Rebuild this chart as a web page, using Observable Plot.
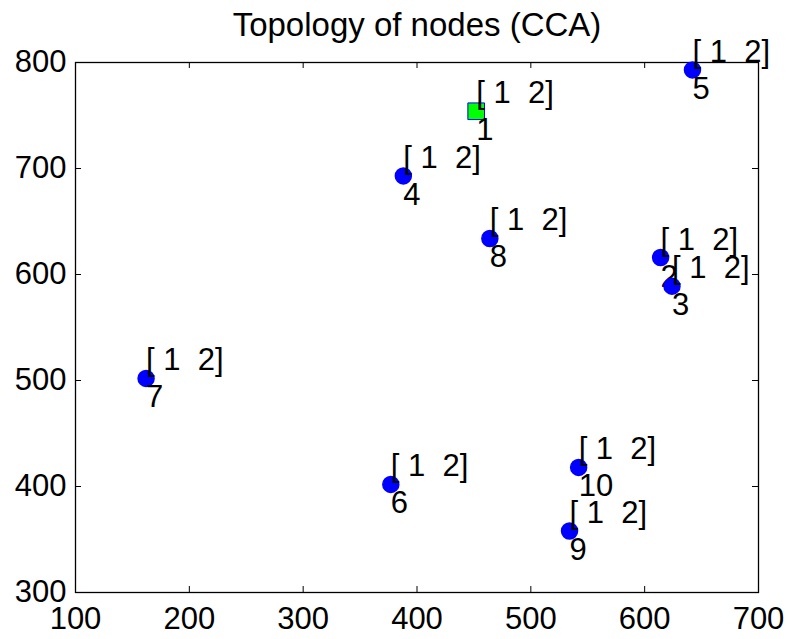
<!DOCTYPE html>
<html><head><meta charset="utf-8">
<script src="https://cdn.jsdelivr.net/npm/d3@7"></script>
<script src="https://cdn.jsdelivr.net/npm/@observablehq/plot@0.6"></script>
<style>html,body{margin:0;padding:0;background:#fff}</style>
</head><body><div id="chart"></div>
<script>
const nodeIds = [1, 2, 3, 4, 5, 6, 7, 8, 9, 10];
const nodeX = [452, 614, 624, 388, 642, 377, 162, 464, 534, 542];
const nodeY = [754, 616, 589, 693, 793, 402, 502, 634, 358, 418];
const nodeLabel = ["[ 1  2]", "[ 1  2]", "[ 1  2]", "[ 1  2]", "[ 1  2]", "[ 1  2]", "[ 1  2]", "[ 1  2]", "[ 1  2]", "[ 1  2]"];
const anchorNode = 1;
const xTicks = [100, 200, 300, 400, 500, 600, 700];
const yTicks = [300, 400, 500, 600, 700, 800];
const title = "Topology of nodes (CCA)";

const nodes = nodeIds.map((id, i) => ({id, x: nodeX[i], y: nodeY[i], label: nodeLabel[i]}));

const W = 791, H = 639, mL = 75, mR = 33, mT = 62, mB = 47;
const pw = W - mL - mR, ph = H - mT - mB, tl = 6;
const font = "'Liberation Sans', Arial, Helvetica, sans-serif";

const nodeMarks = nodes.flatMap(d => [
  d.id === anchorNode
    ? Plot.dot([d], {x: "x", y: "y", symbol: "square", r: 9.4, fill: "#00ff00", stroke: "#0000ff", strokeWidth: 1})
    : Plot.dot([d], {x: "x", y: "y", r: 8, fill: "#0000ff", stroke: "#0000ff"}),
  Plot.text([d], {x: "x", y: "y", text: "label", textAnchor: "start", lineAnchor: "bottom", dy: -8, fontSize: 31, fill: "black", ariaLabel: "node-label"}),
  Plot.text([d], {x: "x", y: "y", text: n => String(n.id), textAnchor: "start", lineAnchor: "bottom", dy: 29, fontSize: 31, fill: "black"})
]);

const chart = Plot.plot({
  width: W, height: H,
  marginLeft: mL, marginRight: mR, marginTop: mT, marginBottom: mB,
  x: {domain: [100, 700]},
  y: {domain: [300, 800]},
  style: {fontFamily: font, background: "white", color: "black", overflow: "visible"},
  marks: [
    Plot.frame({stroke: "black", strokeWidth: 1.3}),
    Plot.tickX(xTicks, {x: d => d, insetTop: ph - tl, stroke: "black"}),
    Plot.tickX(xTicks, {x: d => d, insetBottom: ph - tl, stroke: "black"}),
    Plot.tickY(yTicks, {y: d => d, insetRight: pw - tl, stroke: "black"}),
    Plot.tickY(yTicks, {y: d => d, insetLeft: pw - tl, stroke: "black"}),
    Plot.axisX(xTicks, {anchor: "bottom", tickSize: 0, tickPadding: 14, fontSize: 31, tickFormat: d => String(d), label: null}),
    Plot.axisY(yTicks, {anchor: "left", tickSize: 0, tickPadding: 9, fontSize: 31, tickFormat: d => String(d), label: null}),
    ...nodeMarks,
    Plot.text([title], {frameAnchor: "top", dy: -27, lineAnchor: "bottom", fontSize: 33, fill: "black"})
  ]
});
d3.select(chart).selectAll("g[aria-label='node-label'] text").style("letter-spacing", "1px");
document.getElementById("chart").appendChild(chart);
</script>
</body></html>
